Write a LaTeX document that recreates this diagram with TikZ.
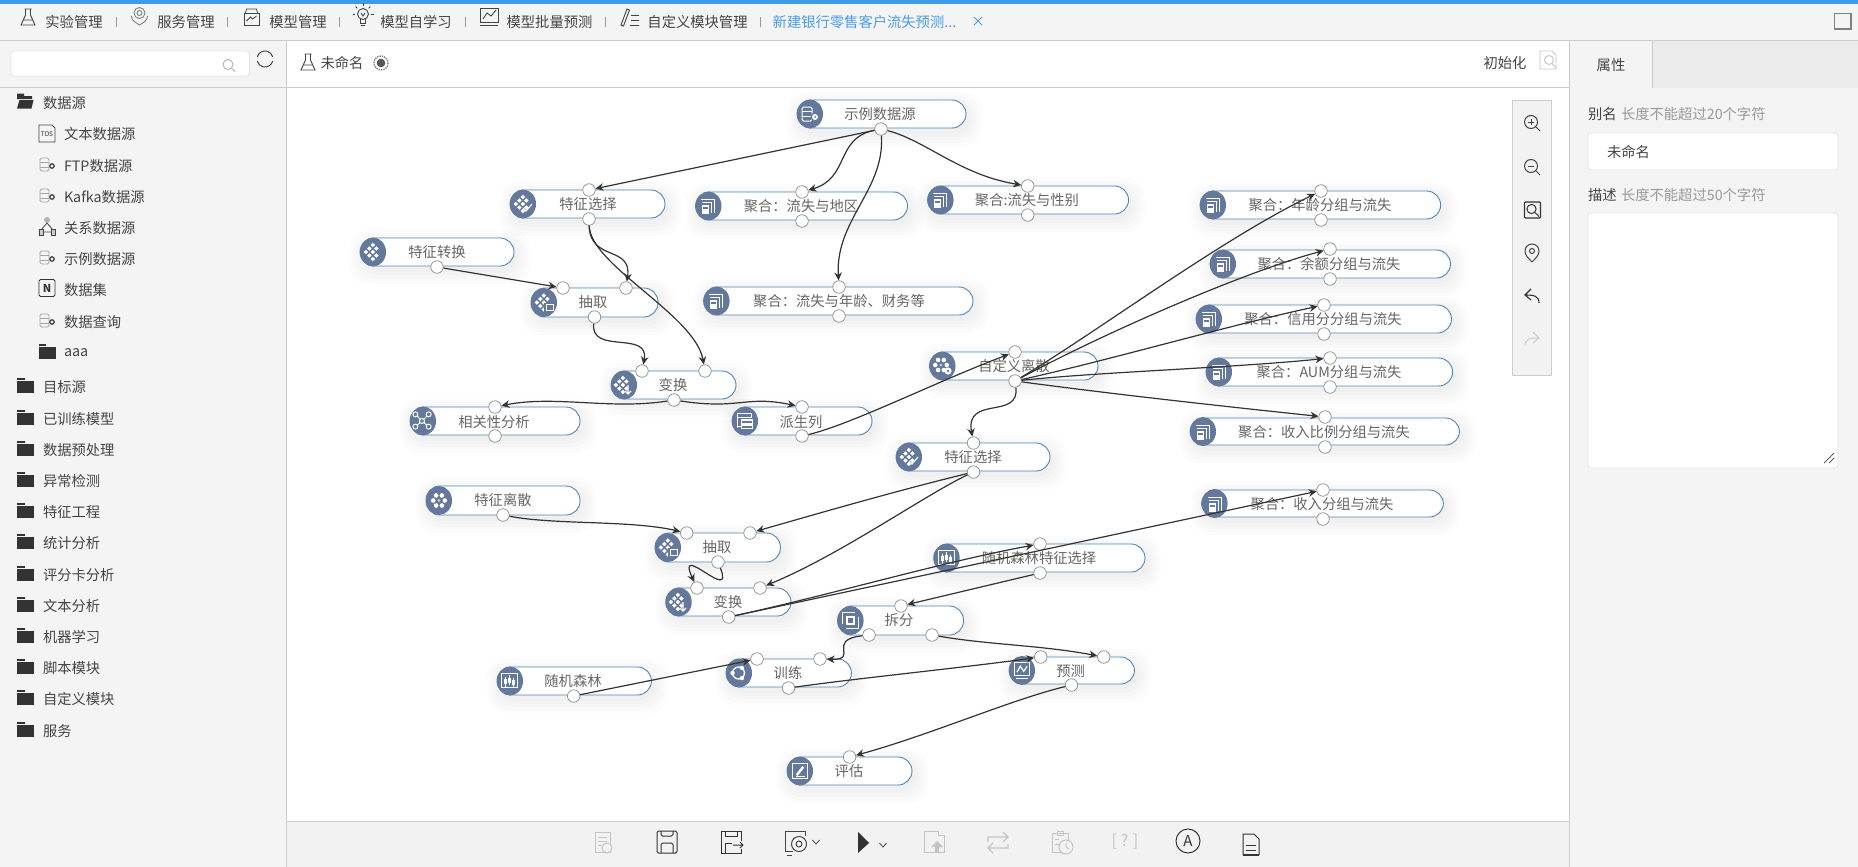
\documentclass[tikz,border=0pt]{standalone}
\usepackage{fontspec}
\setmainfont{Noto Sans CJK SC}
\usetikzlibrary{arrows.meta,shapes.geometric}
\definecolor{iconblue}{HTML}{64789B}
\definecolor{pipeline}{HTML}{4F86B5}
\definecolor{chrome}{HTML}{F4F4F4}
\definecolor{rulegray}{HTML}{CCCCCC}
\definecolor{darktxt}{HTML}{444444}
\definecolor{nodetxt}{HTML}{666666}
\definecolor{hinttxt}{HTML}{999999}
\definecolor{linkblue}{HTML}{4A9CE8}
\definecolor{topblue}{HTML}{3E9BE8}
\definecolor{fadeicon}{HTML}{C4C4C4}
\definecolor{redoicon}{HTML}{C8D0D8}
\definecolor{inkdark}{HTML}{333333}
\tikzset{
  x=1pt,y=-1pt,
  txt/.style={inner sep=0pt,outer sep=0pt,font=\fontsize{14.3}{17}\selectfont,text=darktxt},
  pipebox/.style={draw=pipeline,line width=.9pt,fill=white,rectangle,rounded corners=14pt,inner sep=0pt},
  pipetext/.style={txt,text=nodetxt},
  iconcirc/.style={ellipse,fill=iconblue,draw=none,inner sep=0pt,minimum width=26pt,minimum height=29pt},
  port/.style={circle,draw=gray!90,line width=.7pt,fill=white,inner sep=0pt,minimum size=12.5pt},
  conn/.style={draw=inkdark,line width=1.2pt,-{Stealth[length=8pt,width=7.5pt]}},
  fieldbox/.style={draw=black!10,line width=.8pt,fill=white,rounded corners=3pt},
  sep/.style={draw=gray!80,line width=.7pt},
}
\newcommand\mkpipe[8]{% name, xl, xr, yt, yb, text x, text y, text
  \foreach \gs in {13,10,7,4,1}{
    \fill[black,opacity=.012,rounded corners=18pt] ({#2+3-\gs},{#4+5-\gs}) rectangle ({#3+3+\gs},{#5+5+\gs});
  }
  \node[pipebox,minimum width={(#3-#2)*1pt},minimum height={(#5-#4)*1pt}] (#1) at ({(#2+#3)/2},{(#4+#5)/2}) {};
  \node[pipetext] (#1-t) at (#6,#7) {#8};
  \node[iconcirc] (#1-i) at ({#2+13},{(#4+#5)/2}) {};
}
% glyphs inside the blue circles
\newcommand\gagg[2]{\begin{scope}[shift={(#1,#2)},scale=.82,white,line width=1.1pt]
  \draw (-8,-8)--(8,-8)--(8,9); \draw (-7,-4)--(4,-4)--(4,9); \draw (-7,0)--(0.5,0)--(0.5,9)--(-7,9)--cycle; \fill[white] (-6,4) rectangle (-0.5,8);
\end{scope}}
\newcommand\gclust[2]{\begin{scope}[shift={(#1,#2)},scale=.88]
  \foreach \ax/\ay in {-7/0,-3/-4,-3/4,1/-8,1/0,1/8,5/-4,5/4}{\fill[white,rotate around={45:(\ax,\ay)}] ({\ax-1.8},{\ay-1.8}) rectangle ({\ax+1.8},{\ay+1.8});}
\end{scope}}
\newcommand\gcheck[2]{\draw[white,line width=1.2pt] (#1+1,#2+4)--(#1+4,#2+7)--(#1+10,#2);}
\newcommand\gmini[2]{\fill[iconblue] (#1+1,#2) rectangle (#1+11,#2+9);\draw[white,line width=.9pt] (#1+3,#2+1.5) rectangle (#1+10,#2+8);}
\newcommand\gdown[2]{\draw[white,line width=1.2pt] (#1+6,#2)--(#1+6,#2+9) (#1+3,#2+6)--(#1+6,#2+9)--(#1+9,#2+6);}
\newcommand\gring[2]{\begin{scope}[shift={(#1,#2)}]
  \foreach \ang in {0,60,...,300}{\fill[white] (\ang:5.8) circle (2.3);}
  \fill[white,opacity=.6] (0,0) circle (1.6);
\end{scope}}
\newcommand\ggear[2]{\fill[white] (#1,#2) circle (3.6);\fill[iconblue] (#1,#2) circle (1.3);}
\newcommand\gdb[2]{\begin{scope}[shift={(#1,#2)},white,line width=1pt]
  \draw[rounded corners=1.5pt] (-8,-7) rectangle (2,7); \draw (-8,-2.3)--(2,-2.3) (-8,2.3)--(2,2.3); \fill[iconblue] (5,3) circle (4.5); \fill[white] (5,3) circle (3);\fill[iconblue] (5,3) circle (1);
\end{scope}}
\newcommand\gbars[2]{\begin{scope}[shift={(#1,#2)},scale=.85,white]
  \draw[line width=1pt] (-9,-9) rectangle (9,8);
  \foreach \ax/\ab in {-5/-2,0/-4,5/-1}{\fill (\ax-1.7,\ab) rectangle (\ax+1.7,\ab+6);\draw[line width=.8pt] (\ax,\ab-3)--(\ax,\ab+9);}
\end{scope}}
\newcommand\grows[2]{\begin{scope}[shift={(#1,#2)},scale=.9,white,line width=1.3pt]
  \draw (-8,-8) rectangle (7,-4); \draw (-8,-4)--(-8,8); \draw (-4,-1) rectangle (8,3); \draw (-8,6)--(-4,6); \draw (-4,4.5) rectangle (8,8);
\end{scope}}
\newcommand\gnet[2]{\begin{scope}[shift={(#1,#2)},scale=.95,white,line width=1pt]
  \draw (-7,-6)--(0,1)--(7,-6) (-7,7)--(0,1)--(7,7);
  \foreach \ax/\ay in {-7/-6,7/-6,-7/7,7/7,0/1}{\fill[iconblue] (\ax,\ay) circle (2.6);\draw (\ax,\ay) circle (2.6);}
\end{scope}}
\newcommand\gsplit[2]{\begin{scope}[shift={(#1,#2)},scale=.9,white,line width=1.3pt]
  \draw (-9,4)--(-9,-9)--(5,-9); \draw (-4,-4) rectangle (4,4); \draw (9,-4)--(9,9)--(-5,9);
\end{scope}}
\newcommand\gtrain[2]{\begin{scope}[shift={(#1,#2)},scale=.85,white,line width=1.3pt]
  \draw (0,0) circle (7); \fill (-7,0) circle (2.6); \fill (4,-6) circle (2.6); \fill (4,6) circle (2.6);
\end{scope}}
\newcommand\gmon[2]{\begin{scope}[shift={(#1,#2)},scale=.85,white,line width=1.2pt]
  \draw (-9,-9) rectangle (9,6); \draw (-6,2)--(-2,-5)--(2,1)--(6,-5); \draw (-7,9.5)--(7,9.5);
\end{scope}}
\newcommand\gedit[2]{\begin{scope}[shift={(#1,#2)},scale=.85,white,line width=1.3pt]
  \draw (-9,-9) rectangle (9,9); \fill (-5,4)--(3,-6)--(5,-4)--(-3,6)--cycle; \draw (-5,6.5)--(6,6.5);
\end{scope}}
% chrome icons
\newcommand\icflask[3]{\begin{scope}[shift={(#1,#2)},draw=#3,line width=.9pt]
  \draw (-3.5,-8)--(3.5,-8) (-2.5,-8)--(-2.5,-2)--(-7,8)--(7,8)--(2.5,-2)--(2.5,-8) (-5,3)--(5,3);
\end{scope}}
\newcommand\icpin[2]{\begin{scope}[shift={(#1,#2)},draw=gray,line width=.9pt]
  \draw (0,-3) circle (5.5); \draw (0,-3) circle (2.5); \draw (-8,0) .. controls (-8,5) and (-3,7) .. (0,9) .. controls (3,7) and (8,5) .. (8,0);
\end{scope}}
\newcommand\icmodel[2]{\begin{scope}[shift={(#1,#2)},draw=darktxt,line width=.8pt]
  \draw (-7.5,-4) rectangle (7.5,8); \draw (-6,-4)--(-5,-8)--(5,-8)--(6,-4); \draw (-5,4)--(-1,0)--(1,2)--(5,-1);
\end{scope}}
\newcommand\icbulb[2]{\begin{scope}[shift={(#1,#2)},draw=darktxt,line width=.9pt]
  \draw (0,-2) circle (5.5); \draw (-2.5,3)--(-2.5,7)--(2.5,7)--(2.5,3) (-2,9.5)--(2,9.5); \draw (-2,-3)--(0,0)--(2,-3);
  \foreach \ang in {180,225,270,315,0}{\draw (0,-2)++(\ang:8)--++(\ang:2.5);}
\end{scope}}
\newcommand\icchart[2]{\begin{scope}[shift={(#1,#2)},draw=darktxt,line width=.9pt]
  \draw (-9,-8) rectangle (9,6); \draw (-6,3)--(-2,-3)--(2,0)--(7,-6); \draw (-9,9)--(9,9);
\end{scope}}
\newcommand\icwrite[2]{\begin{scope}[shift={(#1,#2)},draw=darktxt,line width=.9pt]
  \draw (-9,8)--(-3,-8)--(-0.5,-7)--(-6.5,9)--cycle; \draw (1,-2)--(9,-2) (1,3)--(9,3) (0,8)--(9,8);
\end{scope}}
\newcommand\icdbg[2]{\begin{scope}[shift={(#1,#2)},line width=.8pt]
  \draw[draw=gray!70,rounded corners=1.5pt] (-7,-6) rectangle (2,7); \draw[draw=gray!70] (-7,-2)--(2,-2) (-7,3)--(2,3);
  \draw[draw=darktxt,line width=1.3pt] (5,2) circle (2.2);
\end{scope}}
\newcommand\icfold[3]{\begin{scope}[shift={(#1,#2)}]
  \fill[inkdark] (-8.5,-7.5) rectangle (-1,-5.5); \fill[inkdark] (-8.5,-4.5) rectangle (8.5,7.5); \fill[#3] (-8.5,-5.5) rectangle (8.5,-4.5);
\end{scope}}
\newcommand\iclens[3]{\begin{scope}[shift={(#1,#2)},draw=darktxt,line width=1pt]
  \draw (-1,-1) circle (6.5); \draw (3.7,3.7)--(8,8);
  \ifnum#3>0 \draw (-4,-1)--(2,-1);\fi \ifnum#3>1 \draw (-1,-4)--(-1,2);\fi
\end{scope}}
\newcommand\icchev[2]{\draw[darktxt,line width=.8pt] (#1-3.5,#2-2)--(#1,#2+2)--(#1+3.5,#2-2);}
\begin{document}
\begin{tikzpicture}
\useasboundingbox (0,0) rectangle (1858,867);
% ---- chrome
\fill[white] (0,0) rectangle (1858,867);
\fill[chrome] (0,4) rectangle (1858,40.5);
\fill[topblue] (0,0) rectangle (1858,4);
\fill[chrome] (0,40.5) rectangle (286.5,867);
\fill[chrome] (1569,40.5) rectangle (1858,867);
\fill[black!8] (1652,41) rectangle (1858,87.5);
\fill[black!5] (287,821) rectangle (1569,867);
\draw[rulegray,line width=.9pt] (0,40.5)--(1858,40.5) (0,87.5)--(1569,87.5) (286.5,40.5)--(286.5,867) (1569,40.5)--(1569,867) (287,821)--(1569,821) (1652,41)--(1652,87.5);
% ---- top tabs
\icflask{28}{17}{darktxt}
\node[txt] (tab1) at (74,22) {实验管理};
\draw[sep] (116,17)--(116,27);
\icpin{139.5}{16}
\node[txt] (tab2) at (186,22) {服务管理};
\draw[sep] (227,17)--(227,27);
\icmodel{251.5}{17}
\node[txt] (tab3) at (298,22) {模型管理};
\draw[sep] (339,17)--(339,27);
\icbulb{363}{16}
\node[txt] (tab4) at (416,22) {模型自学习};
\draw[sep] (465,17)--(465,27);
\icchart{489}{16}
\node[txt] (tab5) at (549.5,22) {模型批量预测};
\draw[sep] (605,17)--(605,27);
\icwrite{630}{17}
\node[txt] (tab6) at (697.5,22) {自定义模块管理};
\draw[sep] (760,17)--(760,27);
\node[txt,text=linkblue] (tab7) at (864.5,22) {新建银行零售客户流失预测...};
\draw[linkblue,line width=.9pt] (974,17)--(982,25) (982,17)--(974,25);
\draw[gray,line width=1.2pt,fill=chrome] (1834.5,13.5) rectangle (1851,29);
% ---- second row
\draw[fieldbox] (11,51) rectangle (249.5,76);
\draw[black!30,line width=.9pt] (228,64.5) circle (5) (231.5,68)--(235,71.5);
\draw[darktxt,line width=1pt] (257.3,56.9) arc (195:345:8);
\draw[darktxt,line width=1pt] (272.7,61.1) arc (15:165:8);
\icflask{308}{62}{darktxt}
\node[txt] (title) at (342,63) {未命名};
\draw[gray,line width=1.4pt,densely dotted] (381,63) circle (7);
\fill[darktxt!90] (381,63) circle (4.3);
\node[txt] (init) at (1505,63) {初始化};
\begin{scope}[shift={(1548,60)},draw=fadeicon,line width=.9pt]
  \draw (-8,-9)--(4,-9)--(8,-5)--(8,9)--(-8,9)--cycle; \draw (1,0) circle (4.5) (4,3.5)--(8,7.5);
\end{scope}
% ---- sidebar
\begin{scope}[shift={(25,101)}]
  \fill[inkdark] (-8,-7.5) rectangle (-1,-5) (-8,-5) rectangle (7,-2);
  \fill[inkdark] (-5.5,-1) -- (8.5,-1) -- (6.5,7.5) -- (-8,7.5) -- cycle;
\end{scope}
\node[txt,anchor=west] (s0) at (43,103) {数据源};
\begin{scope}[shift={(47,134)},draw=darktxt,line width=.8pt]
  \draw (-8,-9)--(5,-9)--(8,-6)--(8,8)--(-8,8)--cycle; \node[inner sep=0pt,font=\fontsize{6.5}{6.5}\selectfont,text=inkdark] (tdsmark) at (0,0.5) {TDS};
\end{scope}
\node[txt,anchor=west] (s1) at (64,134) {文本数据源};
\icdbg{47}{164} \node[txt,anchor=west] (s2) at (64,166) {FTP数据源};
\icdbg{47}{195} \node[txt,anchor=west] (s3) at (64,197) {Kafka数据源};
\begin{scope}[shift={(47,226)},draw=darktxt,line width=.8pt]
  \fill[gray!60] (0,-6) circle (3); \draw (0,-3)--(-6,4) (0,-3)--(6,4) (-4,6)--(4,6); \draw[fill=gray!40] (-8,3) rectangle (-4,9) (4,3) rectangle (8,9);
\end{scope}
\node[txt,anchor=west] (s4) at (64,228) {关系数据源};
\icdbg{47}{257} \node[txt,anchor=west] (s5) at (64,259) {示例数据源};
\begin{scope}[shift={(47,288)}]
  \draw[inkdark,line width=.9pt,rounded corners=1.5pt] (-8,-8.5) rectangle (8,8.5);
  \node[inner sep=0pt,font=\bfseries\itshape\fontsize{11}{11}\selectfont,text=inkdark] (nmark) at (0,0) {N};
\end{scope}
\node[txt,anchor=west] (s6) at (64,290) {数据集};
\icdbg{47}{320} \node[txt,anchor=west] (s7) at (64,322) {数据查询};
\icfold{47}{351}{chrome} \node[txt,anchor=west] (s8) at (64,353) {aaa};
\icfold{25.5}{385}{chrome} \node[txt,anchor=west] (f1) at (43,387) {目标源};
\icfold{25.5}{417}{chrome} \node[txt,anchor=west] (f2) at (43,419) {已训练模型};
\icfold{25.5}{448}{chrome} \node[txt,anchor=west] (f3) at (43,450) {数据预处理};
\icfold{25.5}{479}{chrome} \node[txt,anchor=west] (f4) at (43,481) {异常检测};
\icfold{25.5}{510}{chrome} \node[txt,anchor=west] (f5) at (43,512) {特征工程};
\icfold{25.5}{541}{chrome} \node[txt,anchor=west] (f6) at (43,543) {统计分析};
\icfold{25.5}{573}{chrome} \node[txt,anchor=west] (f7) at (43,575) {评分卡分析};
\icfold{25.5}{604}{chrome} \node[txt,anchor=west] (f8) at (43,606) {文本分析};
\icfold{25.5}{635}{chrome} \node[txt,anchor=west] (f9) at (43,637) {机器学习};
\icfold{25.5}{666}{chrome} \node[txt,anchor=west] (f10) at (43,668) {脚本模块};
\icfold{25.5}{697}{chrome} \node[txt,anchor=west] (f11) at (43,699) {自定义模块};
\icfold{25.5}{729}{chrome} \node[txt,anchor=west] (f12) at (43,731) {服务};
% ---- right panel
\node[txt] (attr) at (1611,65) {属性};
\node[txt,anchor=west] (lb1) at (1588,114) {别名};
\node[txt,anchor=west,text=hinttxt] (h1) at (1621,114) {长度不能超过20个字符};
\draw[fieldbox] (1588,133) rectangle (1838,170);
\node[txt,anchor=west] (v1) at (1607,152) {未命名};
\node[txt,anchor=west] (lb2) at (1588,195) {描述};
\node[txt,anchor=west,text=hinttxt] (h2) at (1621,195) {长度不能超过50个字符};
\draw[fieldbox] (1588,213) rectangle (1838,468);
\draw[darktxt,line width=.7pt] (1824,463)--(1834,453) (1829,463)--(1834,458);
% ---- flow nodes
\mkpipe{ds}{797}{966}{100}{128}{880}{114}{示例数据源}
\mkpipe{fs1}{510}{665}{190}{218}{588}{204}{特征选择}
\mkpipe{ft}{360}{514}{238}{266}{437}{252}{特征转换}
\mkpipe{ex1}{531}{658}{288}{317}{593}{302}{抽取}
\mkpipe{tr1}{611}{736}{371}{399}{673}{385}{变换}
\mkpipe{co}{410}{580}{407}{435}{494}{422}{相关性分析}
\mkpipe{dc}{732}{872}{407}{435}{801}{422}{派生列}
\mkpipe{fd}{426}{580}{486}{515}{503}{500}{特征离散}
\mkpipe{a1}{695.5}{907.5}{192}{220}{801}{206}{聚合：流失与地区}
\mkpipe{a2}{927.6}{1128.5}{186}{214}{1027}{200}{聚合:流失与性别}
\mkpipe{a3}{703.6}{973}{287}{315}{839}{301}{聚合：流失与年龄、财务等}
\mkpipe{b1}{1200}{1440.6}{191}{219}{1320}{205}{聚合：年龄分组与流失}
\mkpipe{b2}{1210}{1450.5}{250}{278}{1329}{264}{聚合：余额分组与流失}
\mkpipe{b3}{1196}{1451.5}{305}{333}{1323}{319}{聚合：信用分分组与流失}
\mkpipe{b4}{1206}{1452.6}{358}{386}{1329}{372}{聚合：AUM分组与流失}
\mkpipe{b5}{1190}{1459.5}{418}{445}{1324}{432}{聚合：收入比例分组与流失}
\mkpipe{b6}{1201.6}{1443.4}{490}{517}{1322}{504}{聚合：收入分组与流失}
\mkpipe{cd}{929.5}{1098}{352}{380}{1014}{366}{自定义离散}
\mkpipe{fs2}{896}{1050}{443}{471}{973}{457}{特征选择}
\mkpipe{rs}{933.7}{1145}{544}{572}{1039}{558}{随机森林特征选择}
\mkpipe{ex2}{655}{780.4}{533}{562}{717}{547}{抽取}
\mkpipe{tr2}{665.7}{791}{588}{616}{728}{602}{变换}
\mkpipe{sp}{837.6}{963.5}{606}{635}{899}{620}{拆分}
\mkpipe{tn}{726}{851.4}{659}{687}{788}{673}{训练}
\mkpipe{pr}{1009}{1134.5}{657}{684}{1070.6}{671}{预测}
\mkpipe{rf}{497}{651.4}{667}{695}{573}{681}{随机森林}
\mkpipe{ev}{787}{912}{757}{785}{849}{771}{评估}
% glyphs
\gdb{810}{114}
\gclust{522}{204}\gcheck{522}{204}\gclust{372}{252}\gclust{543}{302.5}\gmini{543}{302.5}\gclust{622}{385}\gdown{622}{385}
\gnet{422}{420}\grows{745}{421}\gring{439}{500.5}
\gagg{708}{206}\gagg{940}{200}\gagg{716}{301}
\gagg{1213}{205}\gagg{1223}{264}\gagg{1209}{319}\gagg{1219}{372}\gagg{1203}{432}\gagg{1215}{504}
\gring{941}{365}\ggear{948}{371}\gclust{908}{457}\gcheck{908}{457}\gbars{946.5}{558}
\gclust{667}{547.5}\gmini{667}{547.5}\gclust{677}{602}\gdown{677}{602}\gsplit{850.5}{620.5}\gtrain{738.5}{673}\gmon{1022}{670.5}\gbars{509.5}{681}\gedit{800}{771}
% ports
\foreach \pn/\px/\py in {ds-o/881/129,fs1-i1/589/190,fs1-o/589/219,ft-o/437/267,ex1-i1/563/288,ex1-i2/626/288,ex1-o/594.5/317,
  tr1-i1/642/371,tr1-i2/705/371,tr1-o/674/400,co-i1/495/407,co-o/495/436,dc-i1/802/407,dc-o/802/436,fd-o/503/515,
  a1-i1/802/192,a1-o/802/221,a2-i1/1027.7/186,a2-o/1027.7/215,a3-i1/839/287,a3-o/839/316,
  b1-i1/1321/191,b1-o/1321/220,b2-i1/1330/249,b2-o/1330/279,b3-i1/1324/305,b3-o/1324/334,b4-i1/1330/358,b4-o/1330/387,
  b5-i1/1325/417,b5-o/1325/447,b6-i1/1323/490,b6-o/1323/519,cd-i1/1015/352,cd-o/1015/381,fs2-i1/973.5/443,fs2-o/973.5/472,
  rs-i1/1040/544,rs-o/1040/573,ex2-i1/686.7/533,ex2-i2/750/533,ex2-o/718/562,tr2-i1/697/588,tr2-i2/760/588,tr2-o/728.7/617,
  sp-i1/901/606,sp-o1/869/635,sp-o2/932/635,tn-i1/757/659,tn-i2/820/659,tn-o/788.5/688,pr-i1/1040.7/657,pr-i2/1103.7/657,pr-o/1071.5/685,
  rf-o/573.7/696,ev-i1/849.6/757}
  {\node[port] (\pn) at (\px,\py) {};}
% ---- connectors
\draw[conn] (ds-o) -- (fs1-i1);
\draw[conn] (ds-o) .. controls (835,138) and (850,178) .. (a1-i1);
\draw[conn] (ds-o) .. controls (885,190) and (835,220) .. (a3-i1);
\draw[conn] (ds-o) .. controls (925,140) and (960,175) .. (a2-i1);
\draw[conn] (fs1-o) .. controls (590,262) and (632,245) .. (ex1-i2);
\draw[conn] (fs1-o) .. controls (590,265) and (695,315) .. (tr1-i2);
\draw[conn] (ft-o) -- (ex1-i1);
\draw[conn] (ex1-o) .. controls (590,355) and (650,330) .. (tr1-i1);
\draw[conn] (tr1-o) .. controls (610,410) and (555,395) .. (co-i1);
\draw[conn] (tr1-o) .. controls (740,410) and (745,395) .. (dc-i1);
\draw[conn] (dc-o) .. controls (850,425) and (940,380) .. (cd-i1);
\draw[conn] (cd-o) .. controls (1020,420) and (965,395) .. (fs2-i1);
\draw[conn] (cd-o) .. controls (1100,330) and (1220,240) .. (b1-i1);
\draw[conn] (cd-o) .. controls (1110,330) and (1250,270) .. (b2-i1);
\draw[conn] (cd-o) .. controls (1110,360) and (1230,325) .. (b3-i1);
\draw[conn] (cd-o) .. controls (1100,372) and (1230,368) .. (b4-i1);
\draw[conn] (cd-o) .. controls (1120,395) and (1230,407) .. (b5-i1);
\draw[conn] (fs2-o) .. controls (900,490) and (830,510) .. (ex2-i2);
\draw[conn] (fs2-o) .. controls (925,495) and (840,555) .. (tr2-i2);
\draw[conn] (fd-o) .. controls (555,525) and (630,520) .. (ex2-i1);
\draw[conn] (ex2-o) .. controls (735,605) and (675,540) .. (tr2-i1);
\draw[conn] (tr2-o) .. controls (830,595) and (950,560) .. (rs-i1);
\draw[conn] (tr2-o) -- (b6-i1);
\draw[conn] (rs-o) -- (sp-i1);
\draw[conn] (sp-o1) .. controls (825,640) and (860,660) .. (tn-i2);
\draw[conn] (sp-o2) .. controls (990,645) and (1040,645) .. (pr-i2);
\draw[conn] (rf-o) -- (tn-i1);
\draw[conn] (tn-o) .. controls (860,678) and (960,668) .. (pr-i1);
\draw[conn] (pr-o) .. controls (1010,700) and (930,735) .. (ev-i1);
% ---- zoom toolbar
\draw[rulegray,line width=.9pt,fill=black!5] (1512,100.5) rectangle (1551,375);
\iclens{1532}{123}{2}
\iclens{1532}{167}{1}
\draw[inkdark,line width=1.1pt,rounded corners=1pt] (1524.5,202) rectangle (1540.5,218);
\draw[inkdark,line width=1pt] (1531.5,209) circle (4.6) (1535,212.5)--(1539,216.5);
\begin{scope}[shift={(1532,253)},draw=darktxt,line width=1pt]
  \draw (0,9) .. controls (-4,5) and (-7,2) .. (-7,-2) arc (180:360:7) .. controls (7,2) and (4,5) .. (0,9);
  \draw (0,-2) circle (2.5);
\end{scope}
\draw[inkdark,line width=1.1pt] (1539,303) .. controls (1539,296) and (1534,295) .. (1525,295) (1531,289)--(1525,295)--(1531,300);
\draw[redoicon,line width=1.1pt] (1525,346) .. controls (1525,339) and (1530,338) .. (1539,338) (1533,332)--(1539,338)--(1533,343);
% ---- bottom toolbar
\begin{scope}[shift={(603,842)},draw=fadeicon,line width=1pt]
  \draw (-8,-10) rectangle (7,10); \draw (-5,-5)--(4,-5) (-5,-1)--(4,-1) (-5,3)--(-1,3); \draw[fill=chrome] (4,6) circle (5);
\end{scope}
\begin{scope}[shift={(667,842)},draw=inkdark,line width=1pt,rounded corners=1.5pt]
  \draw (-10,-11) rectangle (10,11); \draw (-6,-11)--(-6,-6)--(6,-6)--(6,-11); \draw (-6,11)--(-6,1)--(6,1)--(6,11);
\end{scope}
\begin{scope}[shift={(731,842)},draw=inkdark,line width=1pt]
  \draw (10,-1)--(10,-11)--(-10,-11)--(-10,11)--(10,11)--(10,7); \draw (-6,-11)--(-6,-6)--(6,-6)--(6,-11); \draw (-6,11)--(-6,1)--(1,1); \draw (2,3)--(12,3) (9,0)--(12,3)--(9,6);
\end{scope}
\begin{scope}[shift={(795,842)},draw=darktxt,line width=1pt]
  \draw (-10,9)--(-10,-11)--(10,-11)--(10,-6) (-10,9)--(-2,9) (-8,13)--(-3,13); \draw[fill=chrome] (4,2) circle (7.5); \draw (4,2) circle (3);
\end{scope}
\icchev{816}{842}
\fill[inkdark] (858,832)--(869,843)--(858,853)--cycle;
\icchev{883}{845}
\begin{scope}[shift={(934,842)},draw=fadeicon,line width=1pt]
  \draw (-10,10)--(-10,-11)--(4,-11)--(4,-7)--(10,-7)--(10,10)--cycle; \fill[fadeicon] (3,-1)--(9,5)--(5,5)--(5,10)--(1,10)--(1,5)--(-3,5)--cycle;
\end{scope}
\begin{scope}[shift={(998,842)},draw=fadeicon,line width=1.1pt]
  \draw (-10,0)--(-10,-5)--(10,-5) (5,-10)--(10,-5)--(5,0); \draw (10,2)--(10,6)--(-10,6) (-5,1)--(-10,6)--(-5,11);
\end{scope}
\begin{scope}[shift={(1062,842)},draw=fadeicon,line width=1pt]
  \draw (-10,-9) rectangle (6,10); \draw (-5,-11) rectangle (1,-7); \draw (-7,-3)--(-3,-3) (-7,2)--(-3,2); \draw[fill=chrome] (4,5) circle (7); \draw (4,1)--(4,5)--(7,7);
\end{scope}
\node[txt,text=fadeicon,font=\fontsize{16}{18}\selectfont] (help) at (1125,842) {[ ? ]};
\draw[inkdark,line width=1pt] (1188,841) circle (12);
\node[txt,text=inkdark,font=\fontsize{15}{18}\selectfont] (auto) at (1188,841) {A};
\begin{scope}[shift={(1251,844)},draw=inkdark,line width=1pt]
  \draw (-8,11)--(-8,-10)--(3,-10)--(8,-5)--(8,11); \draw (-5,1)--(5,1) (-5,6)--(5,6); \draw[line width=2pt] (-8,11)--(8,11);
\end{scope}
\end{tikzpicture}
\end{document}
